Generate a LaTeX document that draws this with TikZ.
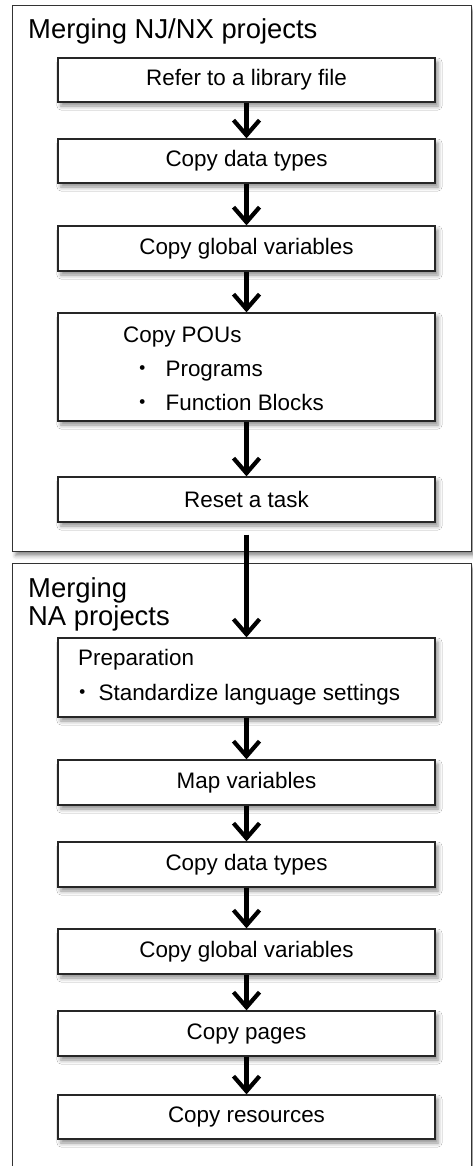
\documentclass[tikz,border=0pt]{standalone}
\usepackage{fontspec}
\setmainfont{Liberation Sans}
\newfontfamily\cjk{Noto Sans CJK JP}
\usetikzlibrary{arrows.meta,shadows.blur}
\begin{document}
\begin{tikzpicture}[x=1bp,y=-1bp,
  frame/.style={draw=black!80,line width=1.3bp,fill=white,inner sep=0pt,
    blur shadow={shadow xshift=3bp,shadow yshift=-4bp,shadow blur radius=4bp,shadow opacity=45}},
  stepbox/.style={draw=black!85,line width=1.3bp,fill=white,minimum width=377bp,inner sep=0pt,
    blur shadow={shadow xshift=3bp,shadow yshift=-4bp,shadow blur radius=4bp,shadow opacity=45},
    font=\fontsize{22.5}{26}\selectfont},
  flow/.style={line width=4.2bp,-{Straight Barb[length=15bp,width=26bp]}},
  title/.style={font=\fontsize{27.5}{29}\selectfont,anchor=base west,inner sep=0pt},
  item/.style={font=\fontsize{22.5}{26}\selectfont,anchor=base west,inner sep=0pt}]
\useasboundingbox (0,0) rectangle (473,1166);
% frames
\node[frame,minimum width=459bp,minimum height=546bp,anchor=north west] (f1) at (12,5) {};
\node[frame,minimum width=459bp,minimum height=640bp,anchor=north west] (f2) at (12,563) {};
\node[title] (t1) at (28,38) {Merging NJ/NX projects};
\node[title] (t2a) at (28,597) {Merging};
\node[title] (t2b) at (28,625) {NA projects};
% upper boxes
\node[stepbox,minimum height=44bp] (b1) at (246.5,80) {Refer to a library file};
\node[stepbox,minimum height=44bp] (b2) at (246.5,161) {Copy data types};
\node[stepbox,minimum height=45bp] (b3) at (246.5,248.5) {Copy global variables};
\node[stepbox,minimum height=108bp] (b4) at (246.5,367) {};
\node[item] (b4t) at (123,342) {Copy POUs};
\node[item] (b4a) at (131,376) {{\cjk ・}\hspace{12bp}Programs};
\node[item] (b4b) at (131,410) {{\cjk ・}\hspace{12bp}Function Blocks};
\node[stepbox,minimum height=45bp] (b5) at (246.5,499.5) {Reset a task};
% lower boxes
\node[stepbox,minimum height=79bp] (b6) at (246.5,677.5) {};
\node[item] (b6t) at (78,665) {Preparation};
\node[item] (b6a) at (71,700) {{\cjk ・}\hspace{5bp}Standardize language settings};
\node[stepbox,minimum height=45bp] (b7) at (246.5,782.5) {Map variables};
\node[stepbox,minimum height=45bp] (b8) at (246.5,864.5) {Copy data types};
\node[stepbox,minimum height=45bp] (b9) at (246.5,951.5) {Copy global variables};
\node[stepbox,minimum height=45bp] (b10) at (246.5,1033.5) {Copy pages};
\node[stepbox,minimum height=44bp] (b11) at (246.5,1117) {Copy resources};
% arrows
\draw[flow] (b1.south) -- (b2.north);
\draw[flow] (b2.south) -- (b3.north);
\draw[flow] (b3.south) -- (b4.north);
\draw[flow] (b4.south) -- (b5.north);
\draw[flow,shorten <=12bp] (b5.south) -- (b6.north);
\draw[flow] (b6.south) -- (b7.north);
\draw[flow] (b7.south) -- (b8.north);
\draw[flow] (b8.south) -- (b9.north);
\draw[flow] (b9.south) -- (b10.north);
\draw[flow] (b10.south) -- (b11.north);
\end{tikzpicture}
\end{document}
